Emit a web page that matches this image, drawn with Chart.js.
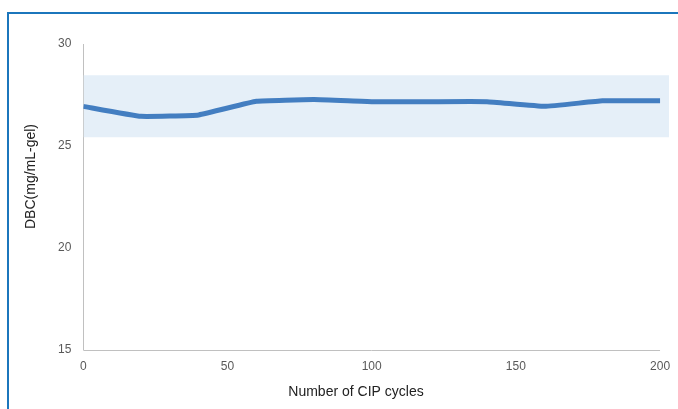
<!DOCTYPE html>
<html>
<head>
<meta charset="utf-8">
<script src="https://cdn.jsdelivr.net/npm/chart.js@4"></script>
<style>
  html, body { margin: 0; padding: 0; background: #fff; overflow: hidden; }
  #wrap { position: relative; width: 678px; height: 409px; }
  #frame {
    position: absolute; left: 7px; top: 12px; width: 720px; height: 440px;
    border: 2px solid #1b76bc; box-sizing: border-box; pointer-events: none;
  }
  canvas { position: absolute; left: 0; top: 0; }
</style>
</head>
<body>
<div id="wrap">
  <canvas id="chart" width="678" height="409"></canvas>
  <div id="frame"></div>
</div>
<script>
// CIP cycles vs dynamic binding capacity
const cycles = [0, 20, 40, 60, 80, 100, 120, 140, 160, 180, 200];
const dbc = [26.94, 26.45, 26.52, 27.19, 27.27, 27.17, 27.17, 27.17, 26.94, 27.21, 27.21];

// shaded acceptance band (runs a little past the last cycle)
const bandX = [0, 203.1];
const bandTop = 28.47;
const bandBottom = 25.42;

const yTicks = [15, 20, 25, 30];
const xTicks = [0, 50, 100, 150, 200];

const xTitle = 'Number of CIP cycles';
const yTitle = 'DBC(mg/mL-gel)';

const lineColor = '#437ec1';
const bandColor = '#e5eff8';
const axisColor = '#c0c0c0';
const tickColor = '#595959';
const titleFont = '14px "Liberation Sans", Arial, sans-serif';

// x axis line only spans the tick range, not the whole plot width
const xAxisLine = {
    id: 'xAxisLine',
    beforeDatasetsDraw(chart) {
        const x = chart.scales.x;
        const y = chart.scales.y;
        const c = chart.ctx;
        const py = Math.round(y.getPixelForValue(yTicks[0])) + 0.5;
        c.save();
        c.strokeStyle = axisColor;
        c.lineWidth = 1;
        c.beginPath();
        c.moveTo(x.getPixelForValue(xTicks[0]), py);
        c.lineTo(x.getPixelForValue(xTicks[xTicks.length - 1]), py);
        c.stroke();
        c.restore();
    }
};

// axis titles sit off-centre in the original, so place them by hand
const axisTitles = {
    id: 'axisTitles',
    afterDraw(chart) {
        const c = chart.ctx;
        c.save();
        c.font = titleFont;
        c.fillStyle = '#222';
        c.textAlign = 'center';
        c.textBaseline = 'middle';
        c.fillText(xTitle, 356, 392);
        c.translate(31.5, 176.5);
        c.rotate(-Math.PI / 2);
        c.fillText(yTitle, 0, 0);
        c.restore();
    }
};

const ctx = document.getElementById('chart').getContext('2d');
new Chart(ctx, {
    type: 'line',
    data: {
        datasets: [
            {
                label: 'DBC',
                data: cycles.map((c, i) => ({ x: c, y: dbc[i] })),
                borderColor: lineColor,
                borderWidth: 5,
                pointRadius: 0,
                tension: 0.1,
                fill: false,
                order: 0,
            },
            {
                label: 'band',
                data: bandX.map(x => ({ x: x, y: bandTop })),
                borderWidth: 0,
                pointRadius: 0,
                backgroundColor: bandColor,
                fill: { value: bandBottom },
                order: 1,
            },
        ]
    },
    plugins: [xAxisLine, axisTitles],
    options: {
        responsive: false,
        animation: false,
        layout: {
            padding: { left: 46, right: 9, top: 44, bottom: 25 }
        },
        plugins: {
            legend: { display: false },
            tooltip: { enabled: false },
        },
        scales: {
            x: {
                type: 'linear',
                min: 0,
                max: 203.1,
                afterBuildTicks: axis => { axis.ticks = xTicks.map(v => ({ value: v })); },
                // the last label may hang past the plot edge
                afterFit: axis => { axis.paddingRight = 0; axis.paddingLeft = 0; },
                grid: { display: false, drawTicks: false },
                border: { display: false },
                ticks: { color: tickColor, font: { family: 'Liberation Sans', size: 12 }, padding: 10, maxRotation: 0 },
            },
            y: {
                min: 15,
                max: 30,
                afterBuildTicks: axis => { axis.ticks = yTicks.map(v => ({ value: v })); },
                grid: { display: false, drawTicks: false },
                border: { display: true, color: axisColor },
                ticks: { color: tickColor, font: { family: 'Liberation Sans', size: 12 }, padding: 12 },
            },
        },
    }
});
</script>
</body>
</html>
